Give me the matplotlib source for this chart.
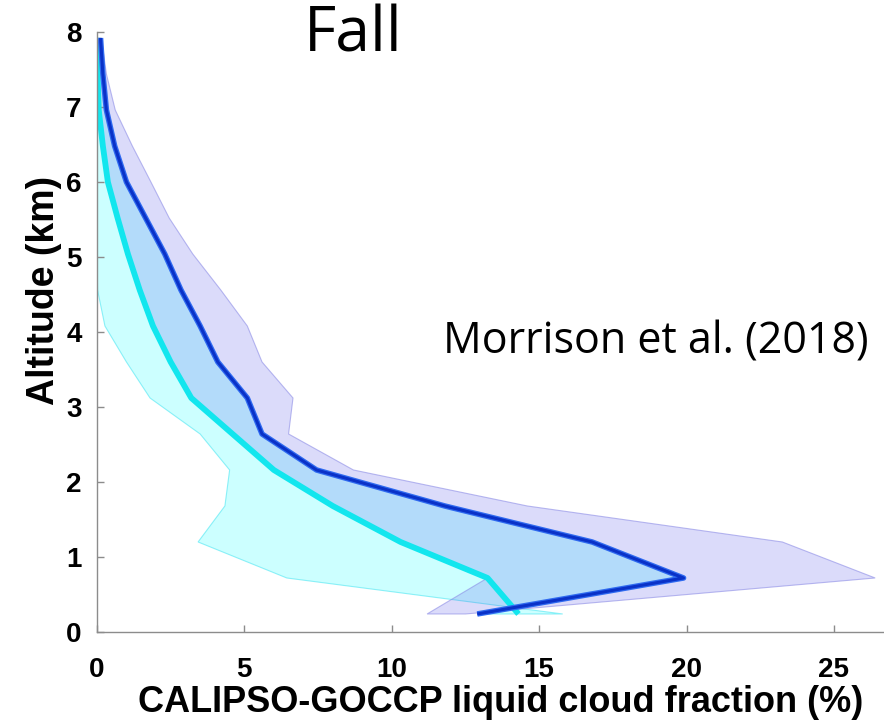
import matplotlib.pyplot as plt
import matplotlib

matplotlib.rcParams['font.family'] = ['Liberation Sans', 'DejaVu Sans']

# altitude levels (km)
altitude = [0.24, 0.72, 1.20, 1.68, 2.16, 2.64, 3.12, 3.60, 4.08,
            4.56, 5.04, 5.52, 6.00, 6.48, 6.96, 7.44, 7.92]

# CALIPSO-GOCCP (dark blue) mean and envelope
obs_mean = [12.9, 19.9, 16.8, 11.8, 7.45, 5.6, 5.1, 4.1, 3.5,
            2.85, 2.3, 1.65, 1.0, 0.6, 0.32, 0.2, 0.12]
obs_lo = [11.2, 13.25, 10.3, 8.0, 6.0, 4.6, 3.2, 2.5, 1.9,
          1.5, 1.05, 0.7, 0.37, 0.2, 0.06, 0.02, 0.0]
obs_hi = [12.5, 26.4, 23.25, 14.6, 8.7, 6.5, 6.65, 5.6, 5.1,
          4.2, 3.25, 2.45, 1.83, 1.2, 0.62, 0.32, 0.15]

# model (cyan) mean and envelope
mod_mean = [14.3, 13.25, 10.3, 8.0, 6.0, 4.6, 3.2, 2.5, 1.9,
            1.45, 1.05, 0.7, 0.37, 0.2, 0.06, 0.02, 0.0]
mod_lo = [15.8, 6.44, 3.43, 4.34, 4.5, 3.5, 1.8, 1.0, 0.27,
          0.02, 0.0, 0.0, 0.0, 0.0, 0.0, 0.0, 0.0]
mod_hi = obs_mean

fig = plt.figure(figsize=(8.84, 7.28), dpi=100)
ax = fig.add_axes([0.1097, 0.1319, 0.8903, 0.8241])

# bands: polygon = lower edge down, upper edge back up
ax.fill(mod_lo + mod_hi[::-1], altitude + altitude[::-1],
        facecolor=(0.0, 1.0, 1.0, 0.2), edgecolor=(0.3, 0.9, 0.95, 0.6), linewidth=0.8)
ax.fill(obs_lo + obs_hi[::-1], altitude + altitude[::-1],
        facecolor=(0.31, 0.31, 0.9, 0.2), edgecolor=(0.55, 0.55, 0.9, 0.6), linewidth=0.8)

ax.plot(mod_mean, altitude, color='#12e6ee', linewidth=4.2, solid_capstyle='butt')
ax.plot(obs_mean, altitude, color='#2f6af0', linewidth=4.0, solid_capstyle='butt')
ax.plot(obs_mean, altitude, color='#0a32c8', linewidth=2.2, solid_capstyle='butt')

ax.set_xlim(0, 26.7)
ax.set_ylim(0, 8)
ax.set_xticks([0, 5, 10, 15, 20, 25])
ax.set_yticks(range(0, 9))

for side in ['top', 'right']:
    ax.spines[side].set_visible(False)
for side in ['left', 'bottom']:
    ax.spines[side].set_color('#8c8c8c')
    ax.spines[side].set_linewidth(1.0)

ax.tick_params(direction='in', length=5, color='#8c8c8c', width=1.0)
ax.tick_params(axis='x', pad=18)
ax.tick_params(axis='y', pad=11)
for lab in ax.get_xticklabels() + ax.get_yticklabels():
    lab.set_fontsize(20)
    lab.set_fontweight('bold')

ax.set_xlabel("CALIPSO-GOCCP liquid cloud fraction (%)", fontsize=26, fontweight='bold')
ax.set_ylabel("Altitude (km)", fontsize=27, fontweight='bold')
ax.xaxis.set_label_coords(0.513, -0.088)
ax.yaxis.set_label_coords(-0.044, 0.57)

fig.text(0.400, 0.952, "Fall", fontsize=45, family='Open Sans', ha='center', va='center')
fig.text(0.742, 0.530, "Morrison et al. (2018)", fontsize=31, family='Open Sans',
         ha='center', va='center')

plt.savefig('out.png', dpi=100)
plt.close()
